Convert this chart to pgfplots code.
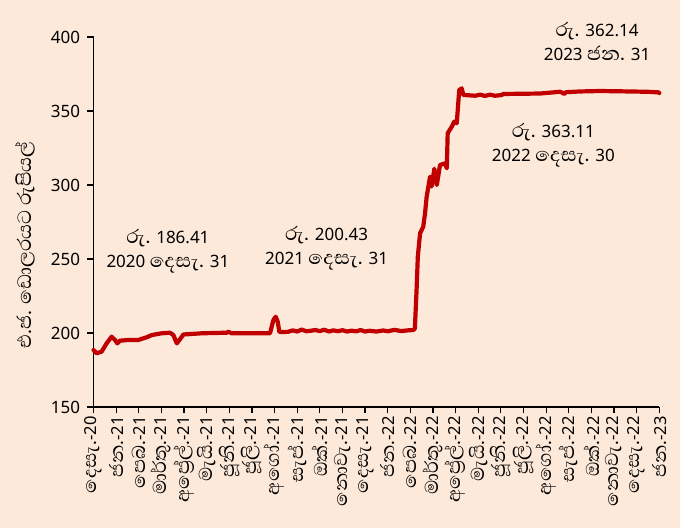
\documentclass[border=0pt]{standalone}
\usepackage{pgfplots}
\pgfplotsset{compat=1.18}
\usepackage{fontspec}
\setmainfont{Noto Sans}
\newfontfamily\si[Script=Sinhala,Scale=1.45]{Abhaya Libre}
\newcommand{\M}[1]{{\si #1}}
\definecolor{bgc}{HTML}{FDE9D9}
\definecolor{lc}{HTML}{C00000}
\begin{document}
\begin{tikzpicture}
\fill[bgc] (0,0) rectangle (680bp,528bp);
\begin{axis}[
  at={(93.5bp,121bp)}, anchor=south west,
  scale only axis, width=565.8bp, height=370bp,
  xmin=0, xmax=25, ymin=150, ymax=400,
  axis x line=bottom, axis y line=left,
  axis line style={-, line width=1.2bp, black},
  tick align=outside, major tick length=6bp,
  tick style={line width=1.2bp, black},
  xtick={0,...,25}, ytick={150,200,...,400},
  xticklabels={\M{දෙසැ.}-20,\M{ජන.}-21,\M{පෙබ.}-21,\M{මාර්තු.}-21,\M{අප්‍රේල්.}-21,\M{මැයි.}-21,\M{ජූනි.}-21,\M{ජූලි.}-21,\M{අගෝ.}-21,\M{සැප්.}-21,\M{ඔක්.}-21,\M{නොවැ.}-21,\M{දෙසැ.}-21,\M{ජන.}-22,\M{පෙබ.}-22,\M{මාර්තු.}-22,\M{අප්‍රේල්.}-22,\M{මැයි.}-22,\M{ජූනි.}-22,\M{ජූලි.}-22,\M{අගෝ.}-22,\M{සැප්.}-22,\M{ඔක්.}-22,\M{නොවැ.}-22,\M{දෙසැ.}-22,\M{ජන.}-23},
  x tick label style={rotate=90, anchor=east, font=\fontsize{16.5bp}{19bp}\selectfont},
  y tick label style={font=\fontsize{17bp}{20bp}\selectfont, xshift=-4bp},
  /pgf/number format/assume math mode=true,
  ylabel={\M{එ.ජ. ඩොලරයට රුපියල්}},
  ylabel style={at={(rel axis cs:-0.121,0.438)}, anchor=center, font=\fontsize{17bp}{20bp}\selectfont},
  clip=false,
]
\addplot[lc, line width=4.2bp, line join=round, line cap=round] coordinates {
(0,188.5) (0.14,186.3) (0.36,187.4) (0.58,193) (0.80,197.5) (0.95,195.3) (1.05,193) (1.17,194.8) (1.54,195.3) (1.98,195.3) (2.35,197.1) (2.57,198.6) (3.01,199.8) (3.38,200.2) (3.53,198.6) (3.68,193) (3.82,195.7) (3.97,199) (4.78,199.8) (5.9,200.2) (5.96,200.9) (6.1,199.8) (7.8,199.8) (7.95,208.8) (8.05,211) (8.14,207.6) (8.21,200.9)
(8.3,200.6) (8.6,200.8) (8.8,201.8) (9.0,201.0) (9.2,202.3) (9.4,201.2) (9.6,201.5) (9.8,202.0) (10.0,201.3) (10.2,202.2) (10.4,201.0) (10.6,201.8) (10.8,201.2) (11.0,201.9) (11.2,201.0) (11.4,201.6) (11.6,201.1) (11.8,202.0) (12.0,201.0) (12.2,201.5) (12.5,201.0) (12.8,201.7) (13.0,201.2) (13.3,202.1) (13.6,201.3) (13.9,201.8) (14.13,202.0)
(14.2,203) (14.28,231) (14.33,251.6) (14.43,267.4) (14.57,271.8) (14.65,281) (14.72,292) (14.87,305.6) (14.94,299) (15.06,311) (15.17,300) (15.31,313.5) (15.53,314.6) (15.61,311.3) (15.65,335) (15.83,339.4) (15.94,342.8) (16.05,341.7) (16.16,364.2) (16.27,365.3) (16.34,360.8) (16.42,360.8) (16.86,360.3) (17.08,361) (17.3,360.2) (17.52,361) (17.74,360.3) (18.04,360.8) (18.11,361.5) (19.73,361.8) (20.61,363) (20.7,362.5) (20.79,361.5) (20.88,362.7) (21.5,363.2) (22.38,363.5) (23.27,363.3) (24.0,363.11) (24.45,363) (24.96,362.6) (25,362.14)
};
\node[align=center, font=\fontsize{17bp}{23.5bp}\selectfont] at (axis cs:3.29,255.4) {\M{රු.} 186.41\\2020 \M{දෙසැ.} 31};
\node[align=center, font=\fontsize{17bp}{23.5bp}\selectfont] at (axis cs:10.3,257.4) {\M{රු.} 200.43\\2021 \M{දෙසැ.} 31};
\node[align=center, font=\fontsize{17bp}{23.5bp}\selectfont] at (axis cs:20.32,327) {\M{රු.} 363.11\\2022 \M{දෙසැ.} 30};
\node[align=center, font=\fontsize{17bp}{23.5bp}\selectfont] at (axis cs:22.25,397) {\M{රු.} 362.14\\2023 \M{ජන.} 31};
\end{axis}
\end{tikzpicture}
\end{document}
